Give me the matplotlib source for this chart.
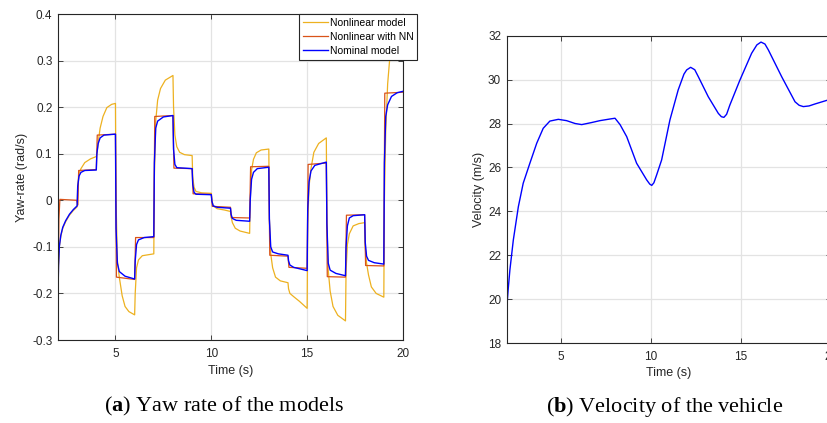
"""Yaw rate of the three models and velocity of the vehicle, two panels side by side."""
import matplotlib
matplotlib.use('Agg')
import matplotlib.pyplot as plt

# yaw rate, nonlinear model (rad/s)
t_nonlin = [2.0, 2.03, 2.07, 2.15, 2.25, 2.4, 2.6, 2.8, 3.0,
            3.03, 3.1, 3.2, 3.4, 3.7, 4.0,
            4.03, 4.1, 4.2, 4.35, 4.55, 4.8, 5.0,
            5.03, 5.1, 5.2, 5.35, 5.5, 5.7, 6.0,
            6.03, 6.1, 6.2, 6.4, 7.0,
            7.03, 7.1, 7.2, 7.35, 7.6, 8.0,
            8.03, 8.1, 8.2, 8.35, 8.6, 9.0,
            9.03, 9.1, 9.2, 9.5, 10.0,
            10.03, 10.1, 10.3, 10.7, 11.0,
            11.03, 11.1, 11.25, 11.5, 12.0,
            12.03, 12.1, 12.2, 12.35, 12.6, 13.0,
            13.03, 13.1, 13.2, 13.35, 13.6, 14.0,
            14.03, 14.1, 14.3, 14.6, 15.0,
            15.03, 15.1, 15.2, 15.35, 15.6, 16.0,
            16.03, 16.1, 16.2, 16.35, 16.6, 17.0,
            17.03, 17.1, 17.2, 17.4, 17.7, 18.0,
            18.03, 18.1, 18.2, 18.35, 18.6, 19.0,
            19.03, 19.1, 19.2, 19.3, 19.5, 20.0]
yaw_nonlin = [-0.21, -0.14, -0.1, -0.077, -0.06, -0.046, -0.032, -0.022, -0.014,
              0.03, 0.058, 0.068, 0.081, 0.089, 0.094,
              0.1, 0.125, 0.155, 0.18, 0.199, 0.206, 0.208,
              0.0, -0.13, -0.165, -0.205, -0.228, -0.239, -0.246,
              -0.2, -0.145, -0.128, -0.119, -0.115,
              0.05, 0.17, 0.215, 0.24, 0.258, 0.268,
              0.2, 0.14, 0.115, 0.103, 0.098, 0.096,
              0.05, 0.028, 0.019, 0.016, 0.015,
              0.0, -0.012, -0.018, -0.021, -0.024,
              -0.035, -0.048, -0.06, -0.066, -0.071,
              0.0, 0.065, 0.088, 0.102, 0.108, 0.11,
              -0.04, -0.115, -0.145, -0.165, -0.173, -0.177,
              -0.19, -0.2, -0.207, -0.217, -0.232,
              -0.05, 0.03, 0.068, 0.103, 0.122, 0.134,
              -0.05, -0.15, -0.195, -0.228, -0.247, -0.259,
              -0.15, -0.095, -0.072, -0.055, -0.05, -0.048,
              -0.1, -0.135, -0.16, -0.186, -0.2, -0.208,
              0.0, 0.15, 0.25, 0.3, 0.325, 0.34]

# yaw rate, nonlinear model with NN
t_nn = [2.0, 2.05, 2.1, 2.98, 3.04, 3.08, 4.0,
        4.05, 5.0, 5.05, 6.0, 6.05, 7.0, 7.05, 8.0, 8.05, 9.0,
        9.05, 10.0, 10.05, 11.0, 11.05, 12.0, 12.05, 13.0,
        13.05, 14.0, 14.05, 15.0, 15.05, 16.0, 16.05, 17.0,
        17.05, 18.0, 18.05, 19.0, 19.05, 20.0]
yaw_nn = [-0.22, -0.04, 0.002, 0.0, -0.01, 0.064, 0.066,
          0.14, 0.142, -0.165, -0.17, -0.08, -0.08, 0.18, 0.182, 0.069, 0.068,
          0.014, 0.013, -0.013, -0.015, -0.037, -0.038, 0.072, 0.073,
          -0.118, -0.12, -0.144, -0.146, 0.077, 0.08, -0.164, -0.165,
          -0.032, -0.031, -0.14, -0.141, 0.23, 0.232]

# yaw rate, nominal model
t_nom = [2.0, 2.03, 2.07, 2.15, 2.25, 2.4, 2.6, 2.8, 3.0,
         3.03, 3.1, 3.2, 3.4, 4.0,
         4.03, 4.1, 4.2, 4.4, 5.0,
         5.03, 5.1, 5.2, 5.5, 6.0,
         6.03, 6.1, 6.2, 6.5, 7.0,
         7.03, 7.1, 7.2, 7.5, 8.0,
         8.03, 8.1, 8.2, 9.0,
         9.03, 9.1, 9.2, 10.0,
         10.03, 10.1, 10.3, 11.0,
         11.03, 11.1, 11.3, 12.0,
         12.03, 12.1, 12.2, 12.4, 13.0,
         13.03, 13.1, 13.2, 13.5, 14.0,
         14.03, 14.1, 14.3, 15.0,
         15.03, 15.1, 15.2, 15.4, 16.0,
         16.03, 16.1, 16.2, 16.5, 17.0,
         17.03, 17.1, 17.2, 17.4, 18.0,
         18.03, 18.1, 18.2, 18.5, 19.0,
         19.03, 19.1, 19.2, 19.4, 19.7, 20.0]
yaw_nom = [-0.207, -0.14, -0.1, -0.075, -0.058, -0.044, -0.03, -0.02, -0.012,
           0.03, 0.052, 0.06, 0.064, 0.065,
           0.1, 0.122, 0.134, 0.14, 0.142,
           -0.06, -0.135, -0.153, -0.163, -0.169,
           -0.13, -0.095, -0.085, -0.08, -0.078,
           0.08, 0.155, 0.17, 0.179, 0.182,
           0.11, 0.077, 0.07, 0.068,
           0.035, 0.017, 0.013, 0.012,
           -0.002, -0.012, -0.015, -0.017,
           -0.03, -0.039, -0.043, -0.045,
           0.0, 0.045, 0.06, 0.068, 0.071,
           -0.04, -0.1, -0.111, -0.115, -0.118,
           -0.13, -0.139, -0.144, -0.151,
           -0.02, 0.04, 0.063, 0.075, 0.082,
           -0.05, -0.135, -0.15, -0.157, -0.162,
           -0.1, -0.055, -0.038, -0.033, -0.031,
           -0.09, -0.12, -0.129, -0.134, -0.137,
           0.08, 0.18, 0.205, 0.223, 0.231, 0.234]

# vehicle velocity (m/s)
t_vel = [2.0, 2.08, 2.18, 2.37, 2.65, 2.92, 3.29, 3.67, 4.03, 4.4, 4.87, 5.33,
         5.8, 6.17, 6.7, 7.18, 7.7, 8.02, 8.3, 8.67, 9.22, 9.78, 9.95, 10.06,
         10.18, 10.33, 10.61, 11.07, 11.53, 11.85, 12.0, 12.22, 12.45, 12.65,
         13.2, 13.76, 13.93, 14.07, 14.22, 14.4, 14.96, 15.61, 15.9, 16.13,
         16.35, 16.54, 17.28, 18.02, 18.25, 18.48, 18.8, 19.13, 19.85, 20.0]
vel = [19.5, 20.4, 21.33, 22.69, 24.21, 25.28, 26.19, 27.1, 27.78, 28.11, 28.19, 28.13,
       28.0, 27.95, 28.04, 28.13, 28.2, 28.24, 27.95, 27.4, 26.19, 25.43, 25.24, 25.18,
       25.3, 25.65, 26.34, 28.16, 29.53, 30.25, 30.44, 30.56, 30.45, 30.13,
       29.22, 28.46, 28.31, 28.28, 28.42, 28.84, 29.98, 31.2, 31.58, 31.71,
       31.62, 31.35, 30.13, 28.99, 28.83, 28.77, 28.8, 28.89, 29.07, 29.1]

YELLOW = '#EDB120'
RED = '#D95319'
BLUE = '#0000FF'

plt.rcParams['font.family'] = 'Liberation Sans'
plt.rcParams['mathtext.fontset'] = 'custom'
plt.rcParams['mathtext.rm'] = 'Liberation Serif'
plt.rcParams['mathtext.bf'] = 'Liberation Serif:bold'


def matlab_style(ax):
    """boxed axes, ticks inside on all four sides, light grid"""
    ax.tick_params(direction='in', top=True, right=True, length=3.5, width=0.6,
                   labelsize=8.5, colors='#262626')
    ax.tick_params(axis='x', pad=5.5)
    ax.tick_params(axis='y', pad=4)
    for s in ax.spines.values():
        s.set_color('#262626')
        s.set_linewidth(0.8)
    ax.grid(True, color='#e3e3e3', linewidth=0.9)
    ax.set_axisbelow(True)


fig = plt.figure(figsize=(8.28, 4.23), dpi=100)

# (a) yaw rate
ax = fig.add_axes([0.0700, 0.1962, 0.4167, 0.7707])
ax.plot(t_nonlin, yaw_nonlin, color=YELLOW, lw=0.9, label='Nonlinear model')
ax.plot(t_nn, yaw_nn, color=RED, lw=0.9, label='Nonlinear with NN')
ax.plot(t_nom, yaw_nom, color=BLUE, lw=1.0, label='Nominal model')
ax.set_xlim(2, 20)
ax.set_ylim(-0.3, 0.4)
ax.set_xticks([5, 10, 15, 20])
ax.set_yticks([-0.3, -0.2, -0.1, 0, 0.1, 0.2, 0.3, 0.4])
ax.set_yticklabels(['-0.3', '-0.2', '-0.1', '0', '0.1', '0.2', '0.3', '0.4'])
matlab_style(ax)
ax.set_xlabel('Time (s)', fontsize=9, color='#262626', labelpad=4)
ax.set_ylabel('Yaw-rate (rad/s)', fontsize=9, color='#262626', labelpad=3)
leg = ax.legend(loc='upper right', bbox_to_anchor=(0.5036, 0.9669),
                bbox_transform=fig.transFigure, fontsize=7.5, frameon=True,
                fancybox=False, framealpha=1, edgecolor='#262626', borderaxespad=0,
                handlelength=2.4, handletextpad=0.15, labelspacing=0.4, borderpad=0.35)
leg.get_frame().set_linewidth(0.8)
leg.set_zorder(10)

# (b) velocity - the right edge of this panel is cut off in the source
ax2 = fig.add_axes([0.6119, 0.1891, 0.3913, 0.7265])
ax2.plot(t_vel, vel, color=BLUE, lw=1.0)
ax2.set_xlim(2, 20)
ax2.set_ylim(18, 32)
ax2.set_xticks([5, 10, 15, 20])
ax2.set_yticks([18, 20, 22, 24, 26, 28, 30, 32])
matlab_style(ax2)
ax2.set_xlabel('Time (s)', fontsize=9, color='#262626', labelpad=3)
ax2.set_ylabel('Velocity (m/s)', fontsize=9, color='#262626', labelpad=2)

# captions under the panels
fig.text(224 / 828, 0.038, r'($\mathbf{a}$) Yaw rate of the models', ha='center',
         va='center', fontsize=16, family='Liberation Serif')
fig.text(665 / 828, 0.038, r'($\mathbf{b}$) Velocity of the vehicle', ha='center',
         va='center', fontsize=16, family='Liberation Serif')

fig.savefig('out.png', dpi=100)
